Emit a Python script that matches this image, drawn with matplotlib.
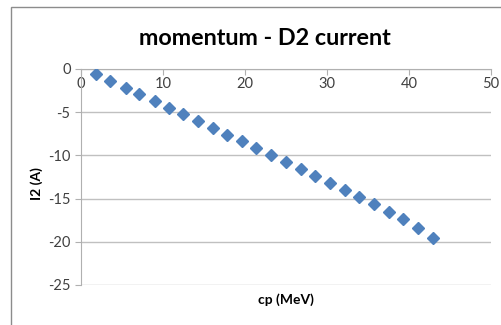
"""
Scatter of D2 current against momentum
"""

import matplotlib.pyplot as plt
from matplotlib.patches import Rectangle

# * Measured points
cp_mev = [1.83, 3.54, 5.45, 7.12, 8.98, 10.73, 12.48, 14.3, 16.06, 17.85,
          19.6, 21.4, 23.2, 25.0, 26.8, 28.58, 30.37, 32.2, 33.9, 35.77,
          37.6, 39.3, 41.1, 42.9]
i2_amp = [-0.58, -1.39, -2.16, -2.93, -3.70, -4.47, -5.25, -6.02, -6.83, -7.6,
          -8.33, -9.14, -9.95, -10.78, -11.55, -12.35, -13.23, -14.0, -14.85,
          -15.66, -16.5, -17.4, -18.44, -19.6]
x_ticks = [0, 10, 20, 30, 40, 50]
y_ticks = [0, -5, -10, -15, -20, -25]

plt.rcParams["font.family"] = ["Lato", "DejaVu Sans"]
plt.rcParams["axes.unicode_minus"] = False

fig = plt.figure(figsize=(5.02, 3.25), dpi=100)
ax = fig.add_axes([0.1614, 0.1231, 0.8166, 0.6646])

# chart frame
fig.patches.append(Rectangle((11 / 502, -0.1), 1.1, 1.1 - 7.5 / 325,
                             transform=fig.transFigure, fill=False,
                             edgecolor="#8c8c8c", linewidth=1.0))

ax.plot(cp_mev, i2_amp, linestyle="none", marker="D", markersize=6.3,
        color="#4f81bd", zorder=3)

ax.set_xlim(0, 50)
ax.set_ylim(-25, 0)
ax.set_xticks(x_ticks)
ax.set_yticks(y_ticks)

## x axis sits at zero, labels below it
ax.spines["bottom"].set_position(("data", 0))
ax.spines["top"].set_visible(False)
ax.spines["right"].set_visible(False)
for side in ["bottom", "left"]:
    ax.spines[side].set_color("#b0b0b0")
ax.tick_params(axis="both", colors="#b0b0b0", length=4, labelcolor="#404040",
               labelsize=10.5)
ax.tick_params(axis="x", direction="out", pad=2)
ax.grid(axis="y", color="#c0c0c0", linewidth=1.0)
ax.set_axisbelow(True)

ax.set_title("momentum - D2 current", fontsize=16.8, fontweight="bold",
             x=0.449, pad=17)
ax.set_xlabel("cp (MeV)", fontsize=10, fontweight="bold")
ax.set_ylabel("I2 (A)", fontsize=10, fontweight="bold")
ax.xaxis.set_label_coords(0.5, -0.04)
ax.yaxis.set_label_coords(-0.092, 0.47)

fig.savefig("out.png", dpi=100)
